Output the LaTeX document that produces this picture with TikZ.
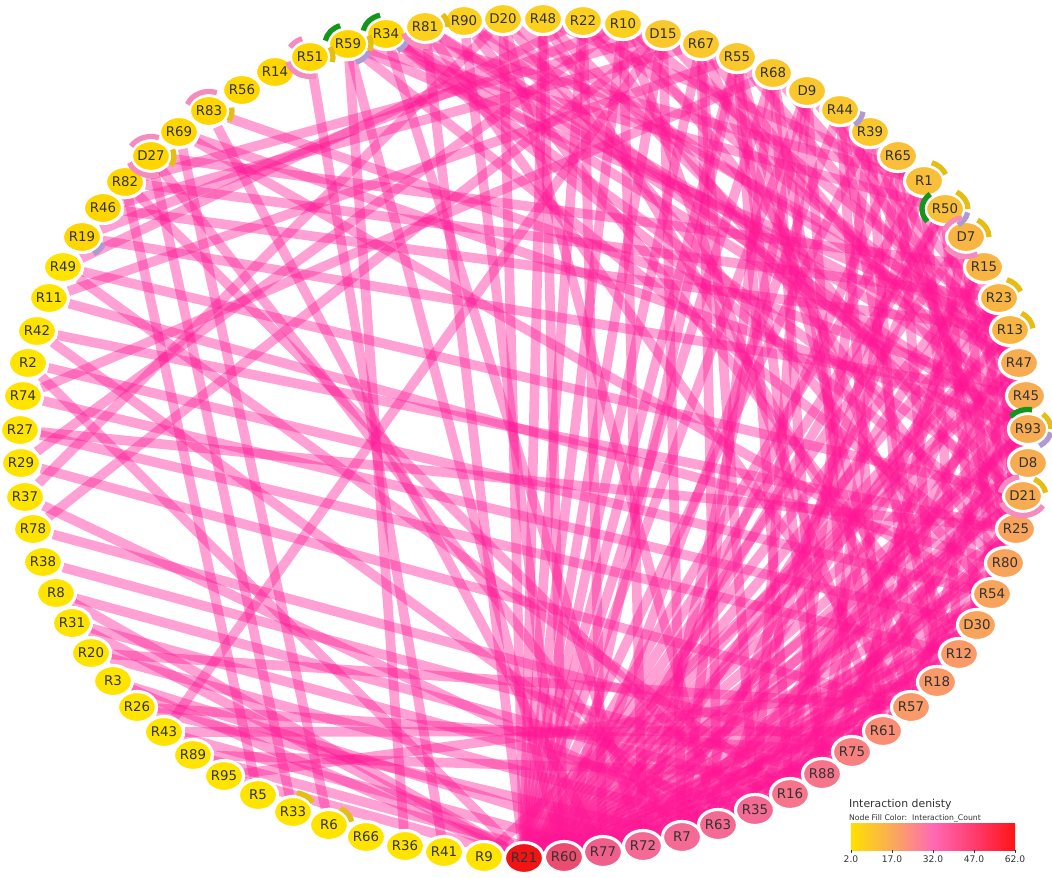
\documentclass[tikz,border=0pt]{standalone}
\usepackage{fontspec}
\setmainfont{DejaVu Sans}
\usetikzlibrary{shapes.geometric, backgrounds}

% node fill scale (Interaction_Count)
\definecolor{cyel}{RGB}{255,228,0}
\definecolor{cgold}{RGB}{255,214,0}
\definecolor{c02}{RGB}{252,208,30}
\definecolor{c03}{RGB}{250,200,45}
\definecolor{c04}{RGB}{249,191,56}
\definecolor{c05}{RGB}{249,181,66}
\definecolor{c06}{RGB}{248,172,82}
\definecolor{c07}{RGB}{249,164,92}
\definecolor{c08}{RGB}{250,154,104}
\definecolor{c09}{RGB}{250,141,116}
\definecolor{c10}{RGB}{249,128,128}
\definecolor{c11}{RGB}{247,117,140}
\definecolor{c12}{RGB}{244,106,148}
\definecolor{c13}{RGB}{240,95,140}
\definecolor{c14}{RGB}{236,76,110}
\definecolor{c15}{RGB}{240,20,20}
% legend bar
\definecolor{b02}{RGB}{255,225,0}
\definecolor{b17}{RGB}{250,170,90}
\definecolor{b32}{RGB}{255,105,180}
\definecolor{b47}{RGB}{255,60,110}
\definecolor{b62}{RGB}{255,20,20}
% links and rings
\definecolor{linkpink}{RGB}{255,20,147}
\definecolor{txtgray}{RGB}{50,50,50}
\definecolor{rgreen}{RGB}{20,150,30}
\definecolor{rpurple}{RGB}{175,155,210}
\definecolor{ryellow}{RGB}{228,190,20}
\definecolor{rpink}{RGB}{245,140,190}

\begin{document}
\begin{tikzpicture}[
            x=0.02cm, y=-0.02cm,
            nd/.style={ellipse, draw=white, line width=1.8pt, minimum width=0.78cm, minimum height=0.62cm, inner sep=0pt, font=\fontsize{7.6}{9}\selectfont, text=txtgray},
            link/.style={line width=5.5pt, draw=linkpink, draw opacity=0.4},
            ring/.style={line width=3pt, draw=#1},
            legtxt/.style={font=\fontsize{5.2}{6}\selectfont, text=txtgray, inner sep=1pt}
        ]
            \useasboundingbox (0,0) rectangle (1052,877);

            % --- Node Placement ---
            \foreach \n/\x/\y/\c in {
              R81/425/27/c02, R90/464/21/c02, D20/503/19/c02, R48/543/19/c02, R22/583/21/c02, R10/623/24/c02,
              D15/663/34/c03, R67/701/44/c03, R55/737/57/c03, R68/773/73/c03, D9/807/91/c03, R44/840/110/c03,
              R39/870/132/c03, R65/898/156/c04, R1/924/181/c04, R50/945/209/c04,
              D7/966/237/c05, R15/984/267/c05, R23/999/298/c05, R13/1010/330/c05,
              R47/1019/363/c06, R45/1026/396/c06, R93/1028/429/c06, D8/1028/463/c06, D21/1023/496/c06,
              R25/1016/529/c07, R80/1005/563/c07, R54/992/594/c07, D30/977/625/c07,
              R12/959/654/c08, R18/937/682/c08, R57/911/707/c08, R61/883/731/c09, R75/852/752/c10,
              R88/822/774/c11, R16/790/794/c11, R35/755/810/c12, R63/718/825/c12, R7/682/837/c12,
              R72/643/846/c12, R77/603/852/c13, R60/564/857/c14, R21/524/858/c15,
              R9/484/857/cyel, R41/444/852/cyel, R36/405/846/cyel, R66/366/837/cyel, R6/329/825/cyel,
              R33/293/812/cyel, R5/258/795/cyel, R95/224/776/cyel, R89/193/755/cyel, R43/164/732/cyel,
              R26/137/707/cyel, R3/113/681/cyel, R20/91/653/cyel, R31/72/623/cyel, R8/56/593/cyel,
              R38/43/562/cyel, R78/33/529/cyel, R37/25/497/cyel, R29/21/463/cyel, R27/20/430/cyel,
              R74/23/396/cyel, R2/28/363/cyel, R42/37/331/cyel, R11/49/298/cyel, R49/63/267/cyel,
              R19/82/237/cgold, R46/103/208/cgold, R82/125/182/cgold, D27/151/156/cgold, R69/179/132/cgold,
              R83/209/111/cgold, R56/242/90/cgold, R14/275/72/cgold, R51/310/57/cgold, R59/348/44/cgold,
              R34/386/34/cgold}
              \node[nd, fill=\c] (\n) at (\x,\y) {\n};

            % --- Ring Segments ---
            \foreach \n/\c/\s/\e in {
              R59/rgreen/170/110, R59/ryellow/25/-20, R59/rpurple/-25/-70,
              R34/rgreen/170/105, R34/rpurple/-10/-60,
              R51/rpink/195/285, R51/rpink/110/150, R51/ryellow/30/-15,
              R81/rpink/200/280, R81/ryellow/40/0,
              R83/rpink/70/160, R83/ryellow/10/-30,
              D27/rpink/70/150, D27/rpink/200/290, D27/ryellow/20/-30,
              R19/rpurple/-20/-60, R44/rpurple/-5/-50,
              R1/ryellow/70/20,
              R50/rgreen/130/220, R50/ryellow/60/0, R50/rpurple/-10/-55,
              D7/rpink/100/160, D7/rpink/210/300, D7/ryellow/60/0,
              R23/ryellow/70/20, R13/ryellow/60/5,
              R93/rgreen/80/140, R93/ryellow/50/0, R93/rpurple/-10/-60,
              D21/rpink/100/170, D21/rpink/200/330, D21/ryellow/60/10,
              R33/ryellow/80/30, R6/ryellow/60/10}
              \draw[ring=\c] ([shift={(\s:0.46cm and 0.39cm)}]\n.center) arc[start angle=\s, end angle=\e, x radius=0.46cm, y radius=0.39cm];

            % --- Link Drawing ---
            \begin{scope}[on background layer]
            \foreach \a/\b in {
              R34/R93, R34/D21, R34/R25, R34/R47, R34/R72, R34/R1,
              R59/R80, R59/R13, R59/R60, R59/R36, R59/R50,
              R51/R41, R83/R77, R83/R45, R69/R93, R69/R54, R69/R6,
              D27/R15, D27/R7, D27/R33, R82/D15, R82/R23, R82/R35, R82/R5,
              R46/R67, R46/R13, R19/R45, R19/R10, R49/R22, R49/R16, R49/D21,
              R11/R80, R11/R55, R42/R25, R42/R63, R2/R54, R2/R21, R74/D30, R74/R68,
              R27/R12, R27/R25, R29/R57, R29/R10, R37/R63, R37/D20, R78/R75, R78/D15,
              R38/R88, R8/R16, R8/R21, R31/R35, R31/R21, R20/R57, R20/R63,
              R3/R72, R3/R21, R26/R75, R26/R7, R43/R77, R43/R61, R89/R60, R89/R88,
              R95/R21, R95/R18, R9/R47,
              R81/R45, R81/R93, R81/R21, R81/R57,
              R90/R13, R90/D8, R90/R60, R90/R12,
              D20/R47, D20/R21, D20/R54, D20/R63,
              R48/R60, R48/R21, R48/D21, R48/R18, R48/R1,
              R22/R77, R22/R21, R22/R80, R22/R47,
              R10/R72, R10/R21, R10/R25, R10/R61, R10/R13,
              D15/R7, D15/R21, D15/R43, D15/R93,
              R67/R63, R67/R21, R67/R35, R67/R12, R67/D8,
              R55/R16, R55/R21, R55/R60, R55/R88, R55/R57, R55/R45,
              R68/R88, R68/R21, R68/R7, R68/R61, R68/R47,
              D9/R75, D9/R21, D9/R72, D9/R35, D9/R13,
              R44/R61, R44/R60, R44/R18, R44/D21,
              R39/R57, R39/R21, R39/R16, R39/R25,
              R65/R18, R65/R77, R65/R88, R65/R80,
              R1/R12, R1/R21, R1/R63, R1/D8,
              R50/D30, R50/R21, R50/R7, R50/R60,
              D7/R54, D7/R21, D7/R75,
              R15/R80, R15/R21, R15/R77, R15/R35,
              R23/R25, R23/R21, R23/R72, R23/R16,
              R13/D21, R13/R21, R13/R60, R13/R88,
              R47/R21, R47/R63, R47/R57,
              R45/R21, R45/R7, R45/R75,
              R93/R21, R93/R60, R93/R77, R93/R16,
              D8/R21, D8/R72, D8/R35,
              D21/R21, D21/R60, D21/R61,
              R25/R21, R25/R7, R25/R63,
              R80/R21, R80/R77, R80/R88,
              R54/R21, R54/R72, R54/R35,
              D30/R21, D30/R60, D30/R63,
              R12/R21, R12/R77, R18/R21, R18/R60, R57/R21, R57/R72,
              R61/R21, R75/R21, R75/R60, R88/R21, R16/R60, R16/R21,
              R35/R21, R63/R60, R7/R21}
              \draw[link] (\a) -- (\b);
            \end{scope}

            % --- Legend ---
            \node[legtxt, anchor=west, font=\fontsize{6.2}{7}\selectfont] (legtitle) at (847,804) {Interaction denisty};
            \node[legtxt, anchor=west, font=\fontsize{4.4}{5}\selectfont] (legsub) at (847,818) {Node Fill Color:~~Interaction\_Count};
            \shade[left color=b02, right color=b17] (851,823) rectangle (892,850);
            \shade[left color=b17, right color=b32] (892,823) rectangle (933,850);
            \shade[left color=b32, right color=b47] (933,823) rectangle (974,850);
            \shade[left color=b47, right color=b62] (974,823) rectangle (1015,850);
            \foreach \x/\t [count=\i] in {851/2.0, 892/17.0, 933/32.0, 974/47.0, 1015/62.0} {
              \draw[txtgray, line width=0.3pt] (\x,850) -- (\x,853);
              \node[legtxt] (tk\i) at (\x,859) {\t};
            }

        \end{tikzpicture}
\end{document}
